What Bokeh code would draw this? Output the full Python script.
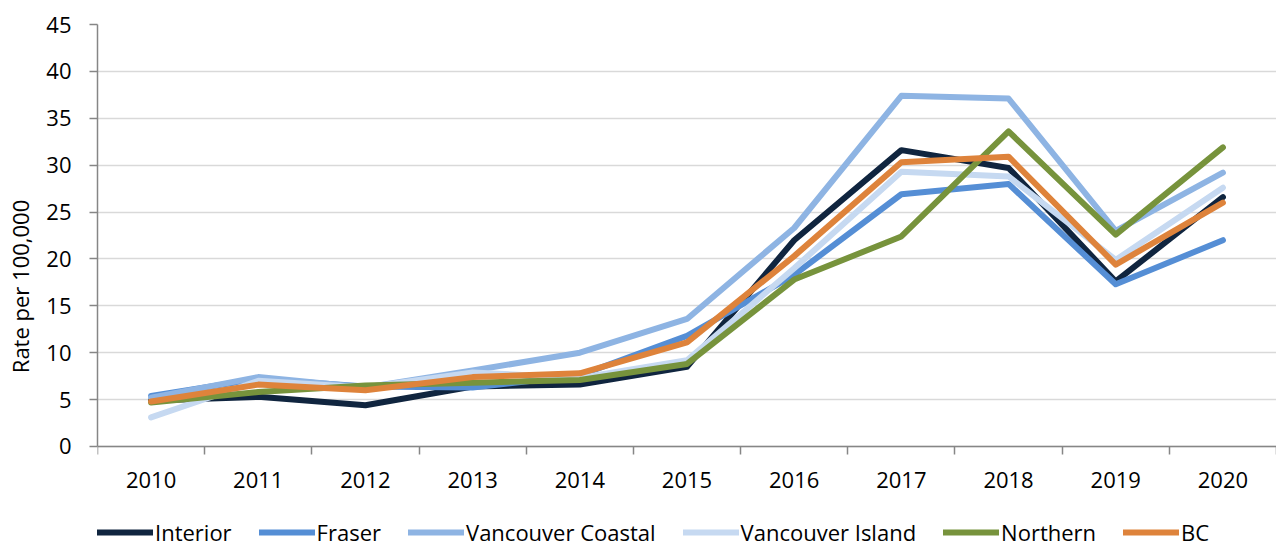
from bokeh.plotting import figure
from bokeh.models import FixedTicker, Legend, LegendItem, ColumnDataSource, Range1d
from bokeh.embed import file_html
from bokeh.resources import INLINE

years = ["2010", "2011", "2012", "2013", "2014", "2015", "2016", "2017", "2018", "2019", "2020"]
interior = [4.9, 5.3, 4.4, 6.4, 6.6, 8.5, 22.0, 31.6, 29.7, 17.6, 26.6]
fraser = [5.4, 7.2, 6.4, 6.3, 7.6, 11.8, 18.3, 26.9, 28.0, 17.3, 22.0]
van_coastal = [5.2, 7.4, 6.3, 8.1, 10.0, 13.6, 23.3, 37.4, 37.1, 23.0, 29.2]
van_island = [3.1, 7.0, 6.3, 7.9, 7.3, 9.2, 19.0, 29.3, 28.8, 19.9, 27.6]
northern = [4.7, 5.8, 6.5, 6.8, 7.1, 8.8, 17.8, 22.4, 33.6, 22.6, 31.9]
bc = [4.8, 6.6, 6.0, 7.4, 7.8, 11.1, 20.3, 30.3, 30.9, 19.4, 26.0]

series_names = ["Interior", "Fraser", "Vancouver Coastal", "Vancouver Island", "Northern", "BC"]
series_values = [interior, fraser, van_coastal, van_island, northern, bc]
series_colors = ["#10253f", "#558ed5", "#8eb4e3", "#c6d9f1", "#77933c", "#de833b"]

FONT = "Open Sans"
xpos = list(range(len(years)))

# frame extends below zero so the legend can sit inside it
p = figure(frame_width=1179, frame_height=524, output_backend="svg", toolbar_location=None,
           x_range=Range1d(-0.5, 10.5), y_range=Range1d(-10.877, 45),
           min_border_left=97, min_border_top=24, min_border_right=0, min_border_bottom=0)
p.outline_line_color = None
p.background_fill_color = "white"

renderers = []
for name, vals, col in zip(series_names, series_values, series_colors):
    src = ColumnDataSource(dict(x=xpos, y=vals))
    r = p.line("x", "y", source=src, line_color=col, line_width=6, line_join="round", line_cap="round")
    renderers.append((name, r))

# x axis pinned at y = 0
p.xaxis.fixed_location = 0
p.xaxis.ticker = FixedTicker(ticks=xpos, minor_ticks=[i - 0.5 for i in range(len(years) + 1)])
p.xaxis.major_label_overrides = {i: y for i, y in enumerate(years)}
p.xaxis.major_tick_out = 0
p.xaxis.major_tick_in = 0
p.xaxis.minor_tick_out = 8
p.xaxis.minor_tick_in = 0
p.xaxis.minor_tick_line_color = "#868686"
p.xaxis.minor_tick_line_width = 1.5
p.xaxis.axis_line_color = "#868686"
p.xaxis.axis_line_width = 1.5
p.xaxis.major_label_text_font = FONT
p.xaxis.major_label_text_font_size = "22px"
p.xaxis.major_label_text_color = "#000000"
p.xaxis.major_label_standoff = 18

p.yaxis.bounds = (0, 45)
p.yaxis.ticker = FixedTicker(ticks=list(range(0, 46, 5)))
p.yaxis.minor_tick_line_color = None
p.yaxis.major_tick_out = 8
p.yaxis.major_tick_in = 0
p.yaxis.major_tick_line_color = "#868686"
p.yaxis.major_tick_line_width = 1.5
p.yaxis.axis_line_color = "#868686"
p.yaxis.axis_line_width = 1.5
p.yaxis.major_label_text_font = FONT
p.yaxis.major_label_text_font_size = "22px"
p.yaxis.major_label_text_color = "#000000"
p.yaxis.major_label_standoff = 18
p.yaxis.axis_label = "Rate per 100,000"
p.yaxis.axis_label_text_font = FONT
p.yaxis.axis_label_text_font_size = "22px"
p.yaxis.axis_label_text_font_style = "normal"
p.yaxis.axis_label_text_color = "#000000"
p.yaxis.axis_label_standoff = 8

p.xgrid.grid_line_color = None
p.ygrid.grid_line_color = "#d9d9d9"
p.ygrid.grid_line_width = 1.5

legend = Legend(items=[LegendItem(label=n, renderers=[r]) for n, r in renderers],
                orientation="horizontal", location=(0, 1))
legend.label_text_font = FONT
legend.label_text_font_size = "22px"
legend.label_text_color = "#000000"
legend.glyph_width = 56
legend.glyph_height = 20
legend.label_standoff = 2
legend.spacing = 27
legend.padding = 0
legend.margin = 0
legend.border_line_color = None
legend.background_fill_alpha = 0
p.add_layout(legend)

open("out.html", "w").write(file_html(p, INLINE))
